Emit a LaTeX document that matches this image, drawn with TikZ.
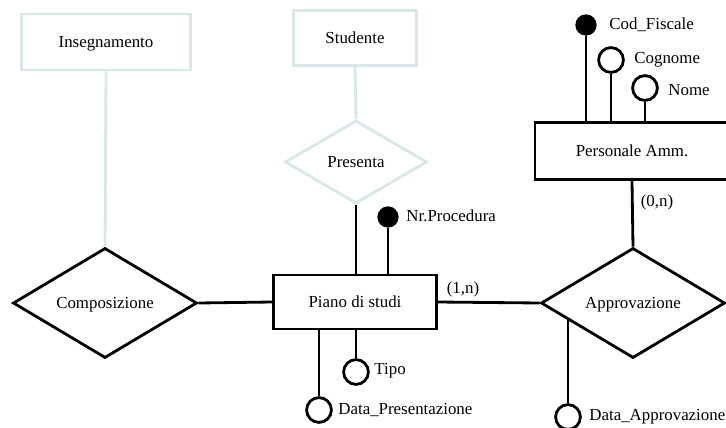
\documentclass[tikz,border=0pt]{standalone}
\usepackage{fontspec}
\setmainfont{Liberation Serif}
\usetikzlibrary{shapes.geometric, positioning}
\definecolor{cPale}{HTML}{D8E7E7}

\begin{document}
\begin{tikzpicture}[x=0.025cm, y=-0.025cm, line width=2pt,
    every node/.style={font=\fontsize{12}{14}\selectfont},
    entity/.style={rectangle, draw, fill=white, inner sep=0pt, text depth=0pt},
    relation/.style={diamond, draw, fill=white, inner sep=0pt, text depth=0pt, aspect=1.66},
    keyattr/.style={circle, draw, fill=black, inner sep=0pt, minimum size=0.51cm, line width=0.6pt},
    attr/.style={circle, draw, fill=white, inner sep=0pt, minimum size=0.62cm},
    attrname/.style={anchor=west, inner sep=0pt}]
  \clip (0,0) rectangle (726,428);

  % Entities
  \node[entity, draw=cPale, minimum width=4.225cm, minimum height=1.4cm] (insegn) at (106,42) {Insegnamento};
  \node[entity, draw=cPale, minimum width=3.075cm, minimum height=1.375cm] (stud) at (355,38) {Studente};
  \node[entity, minimum width=4.075cm, minimum height=1.35cm] (piano) at (355,302) {Piano di studi};
  \node[entity, minimum width=4.85cm, minimum height=1.425cm] (pers) at (632,151) {Personale Amm.};

  % Relations
  \node[relation, draw=cPale, minimum width=3.55cm, minimum height=2.075cm, aspect=1.71] (pres) at (356,162) {Presenta};
  \node[relation, minimum width=4.6cm, minimum height=2.75cm] (comp) at (105,303) {Composizione};
  \node[relation, minimum width=4.6cm, minimum height=2.75cm] (appr) at (633,303) {Approvazione};

  % Links
  \draw[cPale] (insegn.south) -- (comp.north);
  \draw[cPale] (stud.south) -- (pres.north);
  \draw (pres.south) -- (pres.south |- piano.north);
  \draw (comp.east) -- (piano.west);
  \draw (piano.east) -- (appr.west);
  \draw (pers.south) -- (appr.north);
  \node (card1) at (463,289) {(1,n)};
  \node (card2) at (657,202) {(0,n)};

  % Attributes of Piano di studi
  \node[keyattr] (nrproc) at (388,217) {};
  \node[attrname] (nrproct) at (405,216) {Nr.Procedura};
  \draw (nrproc.south) -- (nrproc |- piano.north);
  \node[attr] (tipo) at (356,372) {};
  \node[attrname] (tipot) at (373,371) {Tipo};
  \draw (tipo.north) -- (tipo |- piano.south);
  \node[attr] (datapres) at (319,410) {};
  \node[attrname] (datapresT) at (337,410) {Data\_Presentazione};
  \draw (datapres.north) -- (datapres |- piano.south);

  % Attributes of Personale Amm.
  \node[keyattr] (codfisc) at (586,25) {};
  \node[attrname] (codfisct) at (608,25) {Cod\_Fiscale};
  \draw (codfisc.south) -- (codfisc |- pers.north);
  \node[attr] (cogn) at (611,60) {};
  \node[attrname] (cognt) at (633,60) {Cognome};
  \draw (cogn.south) -- (cogn |- pers.north);
  \node[attr] (nome) at (645,88) {};
  \node[attrname] (nomet) at (667,90) {Nome};
  \draw (nome.south) -- (nome |- pers.north);

  % Attribute of Approvazione
  \node[attr] (dataappr) at (568,417) {};
  \node[attrname] (dataapprt) at (588,417) {Data\_Approvazione};
  \draw (dataappr.north) -- (568,319);
\end{tikzpicture}
\end{document}
